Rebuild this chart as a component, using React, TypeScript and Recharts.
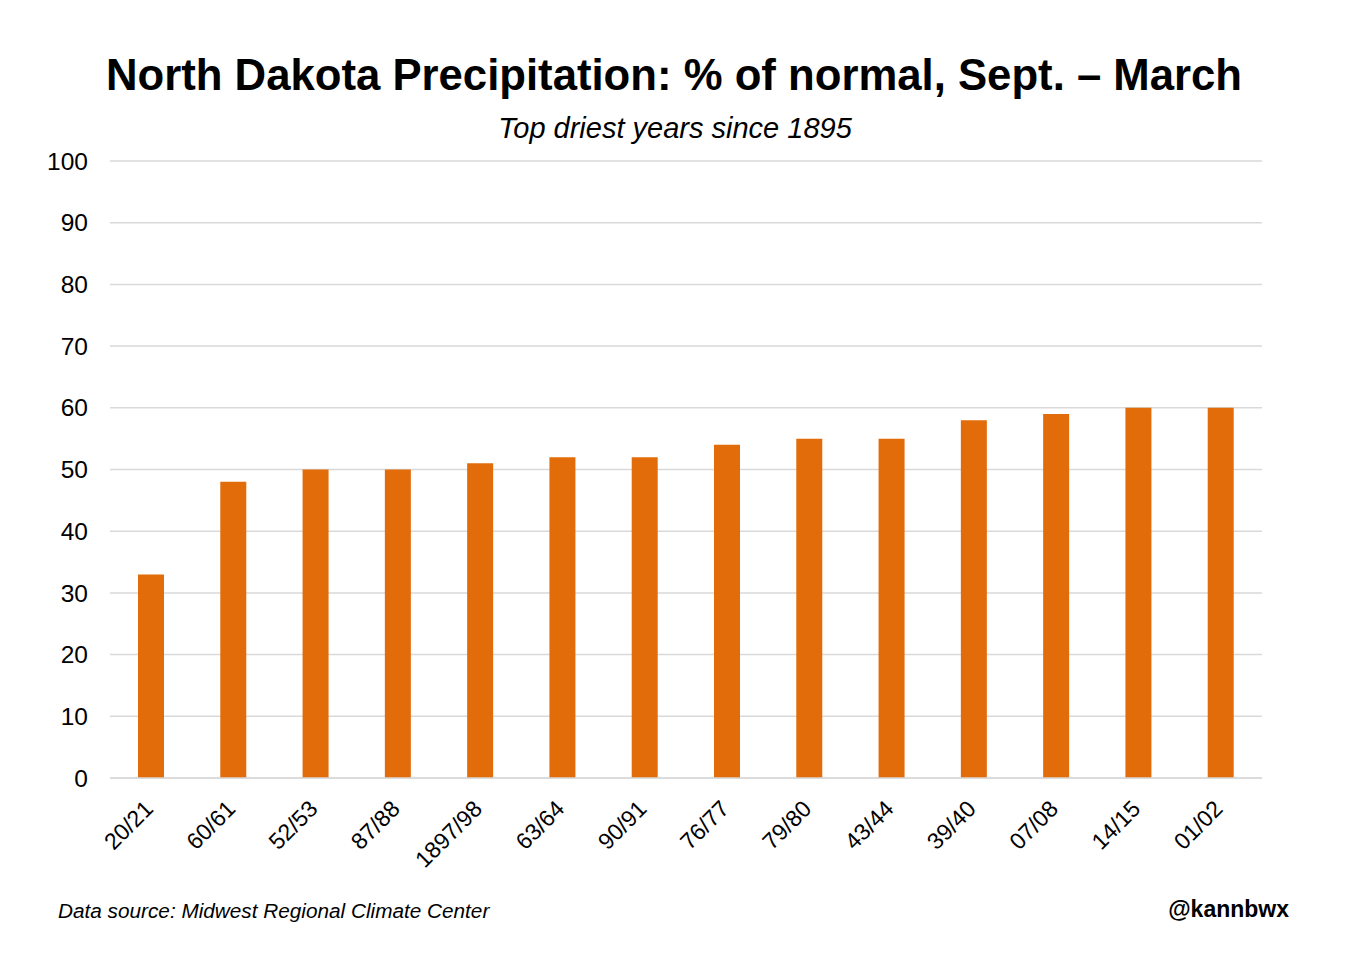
import React from "react";
import { BarChart, Bar, XAxis, YAxis, CartesianGrid } from "recharts";

const seasons = [
  "20/21", "60/61", "52/53", "87/88", "1897/98", "63/64", "90/91",
  "76/77", "79/80", "43/44", "39/40", "07/08", "14/15", "01/02",
];
const pctOfNormal = [33, 48, 50, 50, 51, 52, 52, 54, 55, 55, 58, 59, 60, 60];
const yTicks = [0, 10, 20, 30, 40, 50, 60, 70, 80, 90, 100];

const rows = seasons.map((s, i) => ({ season: s, pct: pctOfNormal[i] }));

const FONT = '"Liberation Sans", Arial, sans-serif';

function SlantTick(props: any) {
  const { x, y, payload } = props;
  const ax = x - 1;
  const ay = y + 20;
  return (
    <text
      x={ax}
      y={ay}
      transform={`rotate(-45, ${ax}, ${ay})`}
      textAnchor="end"
      dominantBaseline="middle"
      fontSize={23}
      fontFamily={FONT}
      fill="#000"
    >
      {payload.value}
    </text>
  );
}

export default function App() {
  return (
    <div
      style={{
        position: "absolute",
        left: 0,
        top: 0,
        width: 1355,
        height: 962,
        background: "#fff",
        fontFamily: FONT,
      }}
    >
      <div
        style={{
          position: "absolute",
          top: 48,
          left: 0,
          width: 1348,
          textAlign: "center",
          fontSize: 43.7,
          fontWeight: "bold",
          lineHeight: "54px",
        }}
      >
        North Dakota Precipitation: % of normal, Sept. – March
      </div>
      <div
        style={{
          position: "absolute",
          top: 110,
          left: 0,
          width: 1350,
          textAlign: "center",
          fontSize: 29,
          fontStyle: "italic",
          lineHeight: "36px",
        }}
      >
        Top driest years since 1895
      </div>
      <BarChart
        width={1355}
        height={962}
        data={rows}
        margin={{ top: 161, right: 93, bottom: 0, left: 0 }}
        barSize={26}
      >
        <CartesianGrid vertical={false} stroke="#d9d9d9" strokeWidth={1.5} />
        <XAxis
          dataKey="season"
          height={184}
          axisLine={{ stroke: "#d9d9d9", strokeWidth: 1.5 }}
          tickLine={false}
          interval={0}
          tick={<SlantTick />}
        />
        <YAxis
          width={110}
          domain={[0, 100]}
          ticks={yTicks}
          axisLine={false}
          tickLine={false}
          tickSize={0}
          tickMargin={22}
          tick={{ fontSize: 24.5, fill: "#000", fontFamily: FONT }}
        />
        <Bar dataKey="pct" fill="#e36c0a" isAnimationActive={false} />
      </BarChart>
      <div
        style={{
          position: "absolute",
          top: 897,
          left: 58,
          fontSize: 20.75,
          fontStyle: "italic",
          lineHeight: "27px",
        }}
      >
        Data source: Midwest Regional Climate Center
      </div>
      <div
        style={{
          position: "absolute",
          top: 895,
          right: 66,
          fontSize: 23,
          fontWeight: "bold",
          lineHeight: "29px",
        }}
      >
        @kannbwx
      </div>
    </div>
  );
}
